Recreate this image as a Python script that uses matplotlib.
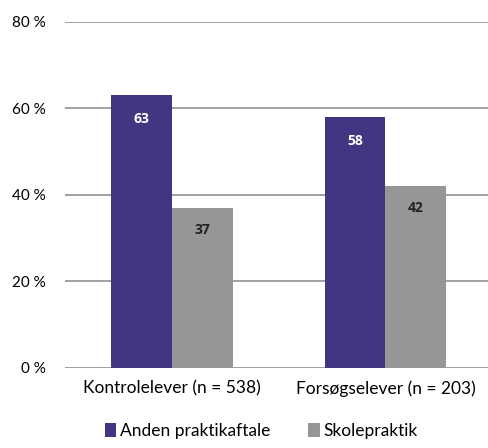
import matplotlib.pyplot as plt
import numpy as np

categories = ["Kontrolelever (n = 538)", "Forsøgselever (n = 203)"]
anden = [63, 58]
skole = [37, 42]
yticks = [0, 20, 40, 60, 80]

purple = "#433581"
grey = "#969696"

plt.rcParams['font.family'] = ['Lato', 'DejaVu Sans']

fig = plt.figure(figsize=(4.88, 4.48), dpi=100)
ax = fig.add_axes([0.133, 0.179, 0.867, 0.772])

x = np.arange(len(categories))
w = 0.285
b1 = ax.bar(x - w / 2, anden, w, color=purple, label="Anden praktikaftale", zorder=3)
b2 = ax.bar(x + w / 2, skole, w, color=grey, label="Skolepraktik", zorder=3)

# value labels inside the bars
for rect, v in zip(b1, anden):
    ax.annotate(str(v), (rect.get_x() + rect.get_width() / 2, v), xytext=(0, -17),
                textcoords="offset points", ha="center", va="center",
                color="white", fontsize=10, fontweight="bold", family="Open Sans", zorder=4)
for rect, v in zip(b2, skole):
    ax.annotate(str(v), (rect.get_x() + rect.get_width() / 2, v), xytext=(0, -16),
                textcoords="offset points", ha="center", va="center",
                color="#222222", fontsize=10, fontweight="bold", family="Open Sans", zorder=4)

ax.set_ylim(0, 80)
ax.set_xlim(-0.5, 1.48)
ax.set_yticks(yticks)
ax.set_yticklabels([f"{t} %" for t in yticks], fontsize=11)
ax.set_xticks(x)
ax.set_xticklabels(categories, fontsize=12.5)
ax.tick_params(length=0)
ax.tick_params(axis="x", pad=9)
ax.tick_params(axis="y", pad=14)
ax.grid(axis="y", color="#a0a0a0", linewidth=1.4, zorder=0)
for s in ax.spines.values():
    s.set_visible(False)

fig.legend(handles=[b1, b2], loc="lower center", bbox_to_anchor=(0.535, -0.015), ncol=2,
           frameon=False, fontsize=12.5, handlelength=0.65, handleheight=0.8,
           handletextpad=0.2, columnspacing=2.2)

fig.savefig("out.png", dpi=100)
